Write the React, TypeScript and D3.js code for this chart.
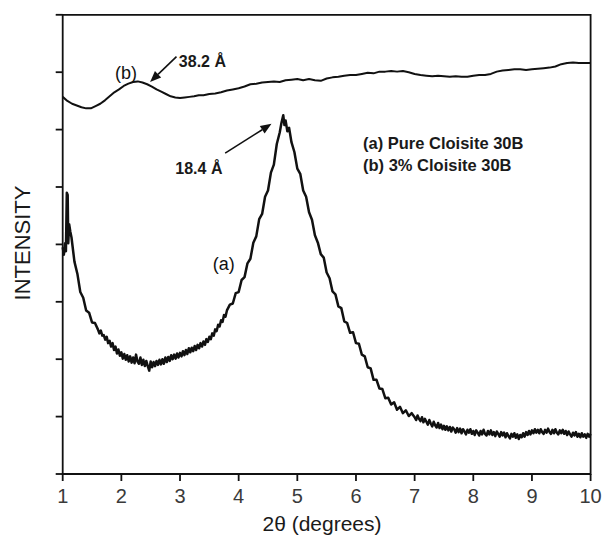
import React from "react";
import * as d3 from "d3";

// ---- data ----
// (a) Pure Cloisite 30B : [2θ, intensity]
const seriesA: [number, number][] = [
  [1.0, 3.95], [1.02, 3.82], [1.04, 4.02], [1.055, 3.88], [1.07, 4.9], [1.085, 4.86], [1.095, 4.02], [1.11, 4.35], [1.13, 4.22],
  [1.15, 4.12], [1.2, 3.7], [1.25, 3.49], [1.3, 3.17], [1.35, 3.07], [1.4, 2.85], [1.45, 2.81], [1.5, 2.64], [1.55, 2.63],
  [1.6, 2.52], [1.625, 2.45], [1.65, 2.5], [1.675, 2.41], [1.7, 2.42], [1.725, 2.34], [1.75, 2.39], [1.775, 2.28],
  [1.8, 2.32], [1.825, 2.22], [1.85, 2.28], [1.875, 2.16], [1.9, 2.22], [1.925, 2.1], [1.95, 2.17], [1.975, 2.06],
  [2.0, 2.12], [2.025, 2.01], [2.05, 2.09], [2.075, 1.99], [2.1, 2.07], [2.125, 1.96], [2.15, 2.05], [2.175, 1.94],
  [2.2, 2.03], [2.225, 1.93], [2.25, 2.08], [2.275, 1.96], [2.3, 1.92], [2.325, 2.03], [2.35, 1.9], [2.375, 1.99],
  [2.4, 1.88], [2.425, 1.97], [2.45, 1.88], [2.475, 1.8], [2.5, 1.96], [2.525, 1.86], [2.55, 1.95], [2.575, 1.88],
  [2.6, 1.97], [2.625, 1.9], [2.65, 1.99], [2.675, 1.91], [2.7, 2.0], [2.725, 1.92], [2.75, 2.03], [2.775, 1.95],
  [2.8, 2.04], [2.825, 1.97], [2.85, 2.07], [2.875, 2.0], [2.9, 2.08], [2.925, 2.01], [2.95, 2.1], [2.975, 2.03],
  [3.0, 2.11], [3.025, 2.05], [3.05, 2.14], [3.075, 2.07], [3.1, 2.16], [3.125, 2.09], [3.15, 2.19], [3.175, 2.12],
  [3.2, 2.2], [3.225, 2.14], [3.25, 2.23], [3.275, 2.16], [3.3, 2.25], [3.325, 2.19], [3.35, 2.28], [3.375, 2.22],
  [3.4, 2.31], [3.425, 2.25], [3.45, 2.35], [3.475, 2.3], [3.5, 2.39], [3.525, 2.35], [3.55, 2.45], [3.575, 2.41],
  [3.6, 2.52], [3.625, 2.49], [3.65, 2.6], [3.675, 2.57], [3.7, 2.68], [3.725, 2.65], [3.75, 2.77], [3.775, 2.74],
  [3.8, 2.85], [3.85, 2.95], [3.9, 2.97], [3.95, 3.15], [4.0, 3.17], [4.05, 3.38], [4.1, 3.43], [4.15, 3.67], [4.2, 3.75],
  [4.25, 4.03], [4.3, 4.14], [4.35, 4.44], [4.4, 4.53], [4.45, 4.83], [4.5, 4.94], [4.55, 5.25], [4.6, 5.39], [4.65, 5.75],
  [4.7, 5.95], [4.73, 6.12], [4.76, 6.25], [4.78, 6.08], [4.8, 6.16], [4.83, 5.97], [4.86, 6.03], [4.9, 5.78], [4.95, 5.61],
  [5.0, 5.32], [5.05, 5.23], [5.1, 4.94], [5.15, 4.83], [5.2, 4.56], [5.25, 4.43], [5.3, 4.16], [5.35, 4.03], [5.4, 3.83],
  [5.45, 3.77], [5.5, 3.51], [5.55, 3.41], [5.6, 3.18], [5.65, 3.13], [5.7, 2.92], [5.75, 2.89], [5.8, 2.66], [5.85, 2.63],
  [5.9, 2.46], [5.95, 2.47], [6.0, 2.28], [6.05, 2.27], [6.1, 2.08], [6.15, 2.05], [6.2, 1.86], [6.25, 1.84], [6.3, 1.64],
  [6.35, 1.64], [6.4, 1.49], [6.45, 1.48], [6.5, 1.32], [6.55, 1.33], [6.6, 1.21], [6.65, 1.25], [6.7, 1.12], [6.75, 1.17],
  [6.8, 1.06], [6.85, 1.11], [6.9, 1.01], [6.95, 1.06],
  [7.0, 0.99], [7.025, 0.94], [7.05, 1.02], [7.075, 0.96], [7.1, 0.92], [7.125, 0.99], [7.15, 0.9], [7.175, 0.96],
  [7.2, 0.91], [7.225, 0.86], [7.25, 0.94], [7.275, 0.88], [7.3, 0.83], [7.325, 0.91], [7.35, 0.85], [7.375, 0.81],
  [7.4, 0.89], [7.425, 0.8], [7.45, 0.86], [7.475, 0.78], [7.5, 0.84], [7.525, 0.77], [7.55, 0.83], [7.575, 0.76],
  [7.6, 0.82], [7.625, 0.74], [7.65, 0.81], [7.675, 0.78], [7.7, 0.72], [7.725, 0.8], [7.75, 0.73], [7.775, 0.79],
  [7.8, 0.71], [7.825, 0.78], [7.85, 0.74], [7.875, 0.69], [7.9, 0.77], [7.925, 0.72], [7.95, 0.78], [7.975, 0.7],
  [8.0, 0.75], [8.025, 0.68], [8.05, 0.76], [8.075, 0.72], [8.1, 0.67], [8.125, 0.75], [8.15, 0.69], [8.175, 0.77],
  [8.2, 0.7], [8.225, 0.67], [8.25, 0.75], [8.275, 0.69], [8.3, 0.76], [8.325, 0.68], [8.35, 0.73], [8.375, 0.66],
  [8.4, 0.74], [8.425, 0.7], [8.45, 0.65], [8.475, 0.73], [8.5, 0.67], [8.525, 0.72], [8.55, 0.64], [8.575, 0.71],
  [8.6, 0.66], [8.625, 0.62], [8.65, 0.7], [8.675, 0.65], [8.7, 0.71], [8.725, 0.63], [8.75, 0.69], [8.775, 0.61],
  [8.8, 0.68], [8.825, 0.64], [8.85, 0.71], [8.875, 0.65], [8.9, 0.73], [8.925, 0.68], [8.95, 0.75], [8.975, 0.69],
  [9.0, 0.76], [9.025, 0.71], [9.05, 0.78], [9.075, 0.72], [9.1, 0.77], [9.125, 0.71], [9.15, 0.78], [9.175, 0.73],
  [9.2, 0.7], [9.225, 0.77], [9.25, 0.72], [9.275, 0.79], [9.3, 0.73], [9.325, 0.7], [9.35, 0.77], [9.375, 0.71],
  [9.4, 0.78], [9.425, 0.72], [9.45, 0.69], [9.475, 0.76], [9.5, 0.71], [9.525, 0.77], [9.55, 0.7], [9.575, 0.75],
  [9.6, 0.68], [9.625, 0.74], [9.65, 0.69], [9.675, 0.65], [9.7, 0.72], [9.725, 0.67], [9.75, 0.73], [9.775, 0.65],
  [9.8, 0.7], [9.825, 0.64], [9.85, 0.71], [9.875, 0.65], [9.9, 0.69], [9.925, 0.63], [9.95, 0.7], [9.975, 0.65],
  [10.0, 0.7],
];

// (b) 3% Cloisite 30B : [2θ, intensity]
const seriesB: [number, number][] = [
  [1.0, 6.57], [1.08, 6.5], [1.16, 6.45], [1.24, 6.42], [1.32, 6.39], [1.4, 6.37], [1.48, 6.37], [1.56, 6.41], [1.64, 6.45],
  [1.72, 6.51], [1.8, 6.58], [1.88, 6.65], [1.96, 6.7], [2.04, 6.76], [2.12, 6.8], [2.2, 6.83], [2.28, 6.84], [2.36, 6.82],
  [2.44, 6.79], [2.52, 6.75], [2.6, 6.7], [2.68, 6.66], [2.76, 6.62], [2.84, 6.58], [2.92, 6.56], [3.0, 6.55], [3.08, 6.56],
  [3.16, 6.57], [3.24, 6.58], [3.32, 6.6], [3.4, 6.6], [3.5, 6.62], [3.6, 6.63], [3.7, 6.65], [3.8, 6.68], [3.9, 6.7],
  [4.0, 6.72], [4.1, 6.75], [4.2, 6.79], [4.3, 6.8], [4.4, 6.82], [4.5, 6.83], [4.6, 6.84], [4.7, 6.83], [4.8, 6.86],
  [4.9, 6.87], [5.0, 6.88], [5.1, 6.86], [5.2, 6.88], [5.3, 6.86], [5.4, 6.85], [5.5, 6.89], [5.6, 6.91], [5.7, 6.92],
  [5.8, 6.94], [5.9, 6.95], [6.0, 6.95], [6.1, 6.97], [6.2, 6.99], [6.3, 6.98], [6.4, 7.01], [6.5, 7.01], [6.6, 7.02],
  [6.7, 7.01], [6.8, 7.02], [6.9, 7.0], [7.0, 6.97], [7.1, 6.95], [7.2, 6.94], [7.3, 6.93], [7.4, 6.94], [7.5, 6.93],
  [7.6, 6.92], [7.7, 6.93], [7.8, 6.92], [7.9, 6.92], [8.0, 6.94], [8.1, 6.95], [8.2, 6.95], [8.3, 6.97], [8.4, 7.01],
  [8.5, 7.03], [8.6, 7.04], [8.7, 7.05], [8.8, 7.05], [8.9, 7.04], [9.0, 7.05], [9.1, 7.06], [9.2, 7.07], [9.3, 7.08],
  [9.4, 7.1], [9.5, 7.14], [9.6, 7.16], [9.7, 7.17], [9.8, 7.16], [9.9, 7.16], [10.0, 7.16],
];

const xTickValues = [1, 2, 3, 4, 5, 6, 7, 8, 9, 10];
const yTickValues = [0, 1, 2, 3, 4, 5, 6, 7, 8];
const xTitle = "2θ (degrees)";
const yTitle = "INTENSITY";
const legendLines = ["(a) Pure Cloisite 30B", "(b) 3% Cloisite 30B"];

// annotations in data coordinates
const curveLabels = [
  { text: "(a)", x: 3.56, y: 3.55 },
  { text: "(b)", x: 1.89, y: 6.89 },
];
const peakNotes = [
  { text: "38.2 Å", tx: 2.98, ty: 7.09, from: [2.94, 7.27], to: [2.49, 6.83] },
  { text: "18.4 Å", tx: 2.92, ty: 5.23, from: [3.77, 5.59], to: [4.56, 6.1] },
];

const W = 604;
const H = 547;
const FONT = "'Liberation Sans', Arial, Helvetica, sans-serif";

export default function App() {
  const x = d3.scaleLinear().domain([1, 10]).range([62.7, 590.6]);
  const y = d3.scaleLinear().domain([0, 8]).range([474, 14.8]);
  const line = d3
    .line<[number, number]>()
    .x((d) => x(d[0]))
    .y((d) => y(d[1]));

  const arrowHead = (fx: number, fy: number, tx: number, ty: number) => {
    const x1 = x(fx), y1 = y(fy), x2 = x(tx), y2 = y(ty);
    const a = Math.atan2(y2 - y1, x2 - x1);
    const L = 11, Wd = 4.5;
    const bx = x2 - L * Math.cos(a), by = y2 - L * Math.sin(a);
    const p1 = [bx + Wd * Math.sin(a), by - Wd * Math.cos(a)];
    const p2 = [bx - Wd * Math.sin(a), by + Wd * Math.cos(a)];
    return {
      line: `M${x1},${y1}L${bx},${by}`,
      head: `M${x2},${y2}L${p1[0]},${p1[1]}L${p2[0]},${p2[1]}Z`,
    };
  };

  const [x0, x1] = x.range();
  const [yb, yt] = y.range();

  return (
    <svg
      width={W}
      height={H}
      style={{ position: "absolute", left: 0, top: 0, background: "#fff" }}
      fontFamily={FONT}
    >
      <rect width={W} height={H} fill="#fff" />
      {/* frame */}
      <path
        d={`M${x0},${yt}L${x1},${yt}L${x1},${yb}L${x0},${yb}Z`}
        fill="none"
        stroke="#111"
        strokeWidth={1.8}
      />
      {/* y ticks */}
      {yTickValues.map((v) => (
        <line key={"yt" + v} x1={x0 - 7} x2={x0} y1={y(v)} y2={y(v)} stroke="#111" strokeWidth={1.8} />
      ))}
      {/* x ticks */}
      {xTickValues.map((v) => (
        <g key={"xt" + v}>
          <line x1={x(v)} x2={x(v)} y1={yb} y2={yb + 7} stroke="#111" strokeWidth={1.8} />
          <text x={x(v)} y={503} textAnchor="middle" fontSize={20} fill="#3a3a3a">
            {v}
          </text>
        </g>
      ))}
      <text x={322} y={531} textAnchor="middle" fontSize={21} fill="#1a1a1a">
        {xTitle}
      </text>
      <text
        transform={`translate(30,243) rotate(-90)`}
        textAnchor="middle"
        fontSize={22}
        fill="#1a1a1a"
      >
        {yTitle}
      </text>

      {/* series */}
      <path d={line(seriesB) || ""} fill="none" stroke="#111" strokeWidth={2} strokeLinejoin="round" />
      <path d={line(seriesA) || ""} fill="none" stroke="#111" strokeWidth={2.5} strokeLinejoin="round" />

      {/* curve labels */}
      {curveLabels.map((c) => (
        <text key={c.text} x={x(c.x)} y={y(c.y)} fontSize={18} fill="#111">
          {c.text}
        </text>
      ))}
      {/* peak notes */}
      {peakNotes.map((n) => {
        const a = arrowHead(n.from[0], n.from[1], n.to[0], n.to[1]);
        return (
          <g key={n.text}>
            <path d={a.line} stroke="#111" strokeWidth={1.6} fill="none" />
            <path d={a.head} fill="#111" />
            <text x={x(n.tx)} y={y(n.ty)} fontSize={16} fontWeight="bold" fill="#1a1a1a">
              {n.text}
            </text>
          </g>
        );
      })}
      {/* legend */}
      {legendLines.map((t, i) => (
        <text key={t} x={363} y={149 + i * 21.5} fontSize={16.5} fontWeight="bold" fill="#1a1a1a">
          {t}
        </text>
      ))}
    </svg>
  );
}
